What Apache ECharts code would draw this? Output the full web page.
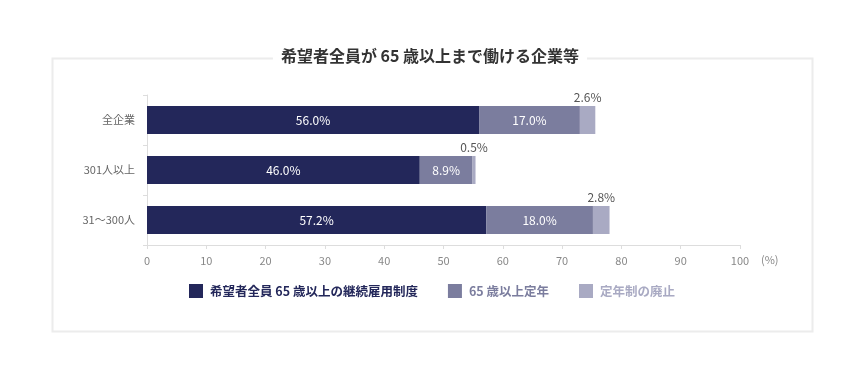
<!DOCTYPE html>
<html><head><meta charset="utf-8">
<script src="https://cdn.jsdelivr.net/npm/echarts@6/dist/echarts.min.js"></script>
<style>html,body{margin:0;padding:0;background:#fff;}#c{width:860px;height:380px;}</style>
</head><body><div id="c"></div>
<script>
const categories = ['全企業', '301人以上', '31〜300人'];
const seriesNames = ['希望者全員 65 歳以上の継続雇用制度', '65 歳以上定年', '定年制の廃止'];
const continued = [56.0, 46.0, 57.2];
const retire65 = [17.0, 8.9, 18.0];
const abolished = [2.6, 0.5, 2.8];
const xTicks = [0, 10, 20, 30, 40, 50, 60, 70, 80, 90, 100];
const colors = ['#23275a', '#7b7d9e', '#a9aac3'];
const font = '"Noto Sans CJK JP", "Noto Sans", sans-serif';

const chart = echarts.init(document.getElementById('c'));
const fmt = p => p.value.toFixed(1) + '%';
chart.setOption({
  animation: false,
  graphic: [{
    type: 'rect', left: 50, top: 56, z: -1,
    shape: { width: 760, height: 273 },
    style: { fill: 'none', stroke: '#ececec', lineWidth: 2 }
  }],
  title: {
    text: '希望者全員が 65 歳以上まで働ける企業等',
    left: 'center', top: 46,
    backgroundColor: '#fff', padding: [2, 8],
    textStyle: { fontFamily: font, fontSize: 16, fontWeight: 'bold', color: '#333' }
  },
  legend: {
    top: 279, left: 184, itemGap: 30, itemWidth: 14, itemHeight: 14,
    icon: 'rect',
    data: seriesNames.map((n, i) => ({ name: n, textStyle: { color: colors[i] } })),
    textStyle: { fontFamily: font, fontSize: 12.5, fontWeight: 'bold', padding: [0, 0, 0, 2] }
  },
  grid: { left: 147, right: 120, top: 95, bottom: 135, containLabel: false },
  xAxis: {
    type: 'value', min: xTicks[0], max: xTicks[xTicks.length - 1], interval: 10,
    name: '(%)', nameLocation: 'end', nameGap: 21,
    nameTextStyle: { color: '#888', fontFamily: font, fontSize: 11, verticalAlign: 'top', padding: [9, 0, 0, 0] },
    axisLine: { show: true, lineStyle: { color: '#ddd' } },
    axisTick: { show: true, length: 4, lineStyle: { color: '#ddd' } },
    splitLine: { show: false },
    axisLabel: { color: '#888', fontFamily: font, fontSize: 11, margin: 10 }
  },
  yAxis: {
    type: 'category', inverse: true, data: categories,
    axisLine: { show: true, lineStyle: { color: '#ddd' } },
    axisTick: { show: true, length: 4, lineStyle: { color: '#ddd' } },
    axisLabel: { color: '#666', fontFamily: font, fontSize: 11, margin: 12 }
  },
  series: [
    { name: seriesNames[0], type: 'bar', stack: 'a', data: continued, barWidth: 28,
      itemStyle: { color: colors[0] },
      label: { show: true, position: 'inside', color: '#fff', fontFamily: font, fontSize: 12, formatter: fmt } },
    { name: seriesNames[1], type: 'bar', stack: 'a', data: retire65, barWidth: 28,
      itemStyle: { color: colors[1] },
      label: { show: true, position: 'inside', color: '#fff', fontFamily: font, fontSize: 12, formatter: fmt } },
    { name: seriesNames[2], type: 'bar', stack: 'a', data: abolished, barWidth: 28,
      itemStyle: { color: colors[2] },
      label: { show: true, position: 'top', distance: 3, color: '#555', fontFamily: font, fontSize: 12, formatter: fmt } }
  ]
});
</script></body></html>
